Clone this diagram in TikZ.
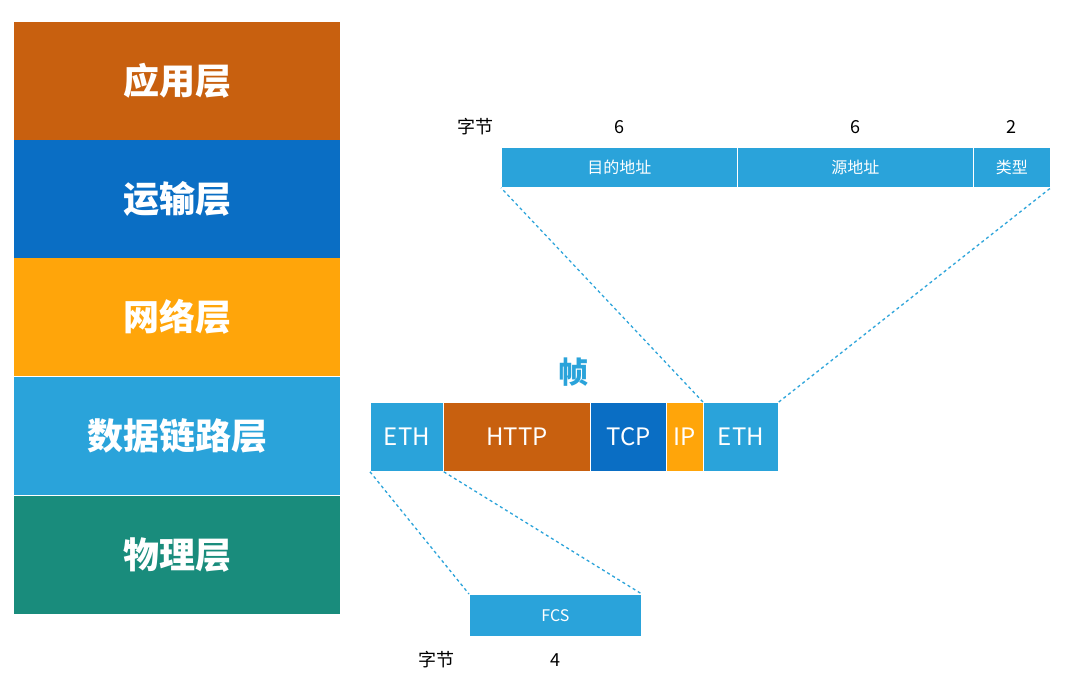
\documentclass[tikz,border=0pt]{standalone}
\usepackage{fontspec}
\setmainfont{Noto Sans CJK SC}
\begin{document}
\begin{tikzpicture}[x=1pt,y=-1pt,
  layer/.style={draw=none,fill=#1,minimum width=326pt,minimum height=118pt,anchor=north west,inner sep=0pt,text=white,font=\bfseries\fontsize{36}{36}\selectfont},
  seg/.style={draw=white,line width=0.8pt,fill=#1,anchor=north west,minimum height=69pt,inner sep=0pt,text=white,font=\fontsize{24}{24}\selectfont},
  fld/.style={draw=white,line width=0.8pt,fill=lb,anchor=north west,minimum height=40pt,inner sep=0pt,text=white,font=\fontsize{16}{16}\selectfont},
  lbl/.style={font=\fontsize{18}{18}\selectfont},
  dl/.style={dashed,draw=lb,line width=1.3pt}]
\definecolor{c1}{HTML}{C8600F}\definecolor{c2}{HTML}{0A6EC4}\definecolor{c3}{HTML}{FFA50A}
\definecolor{lb}{HTML}{2AA3DA}\definecolor{c5}{HTML}{198C7C}
\useasboundingbox (0,0) rectangle (1088,684);
\fill[white] (0,0) rectangle (1088,684);
\node[layer=c1] (l1) at (14,22) {应用层};
\node[layer=c2] (l2) at (14,140) {运输层};
\node[layer=c3] (l3) at (14,258) {网络层};
\node[layer=lb] (l4) at (14,377) {数据链路层};
\node[layer=c5] (l5) at (14,496) {物理层};
% header
\node[fld,minimum width=236pt] (da) at (501,147) {目的地址};
\node[fld,minimum width=236pt] (sa) at (737,147) {源地址};
\node[fld,minimum width=77pt] (ty) at (973,147) {类型};
\node[lbl] (bz) at (475,127) {字节};
\node[lbl] (n1) at (619,127) {6};
\node[lbl] (n2) at (855,127) {6};
\node[lbl] (n3) at (1011,127) {2};
% frame
\node[font=\bfseries\fontsize{30}{30}\selectfont,text=lb] (fr) at (573,372) {帧};
\node[seg=lb,minimum width=73pt] (e1) at (370,402) {ETH};
\node[seg=c1,minimum width=147pt] (ht) at (443,402) {HTTP};
\node[seg=c2,minimum width=76pt] (tc) at (590,402) {TCP};
\node[seg=c3,minimum width=37pt] (ip) at (666,402) {IP};
\node[seg=lb,minimum width=75pt] (e2) at (703,402) {ETH};
% FCS
\node[fld,minimum width=172pt,minimum height=42pt] (fcs) at (469,594) {FCS};
\node[lbl] (bz2) at (436,660) {字节};
\node[lbl] (n4) at (555,660) {4};
% dashes
\draw[dl] (e2.north west) -- (da.south west);
\draw[dl] (e2.north east) -- (ty.south east);
\draw[dl] (e1.south west) -- (fcs.north west);
\draw[dl] (e1.south east) -- (fcs.north east);
\end{tikzpicture}
\end{document}
